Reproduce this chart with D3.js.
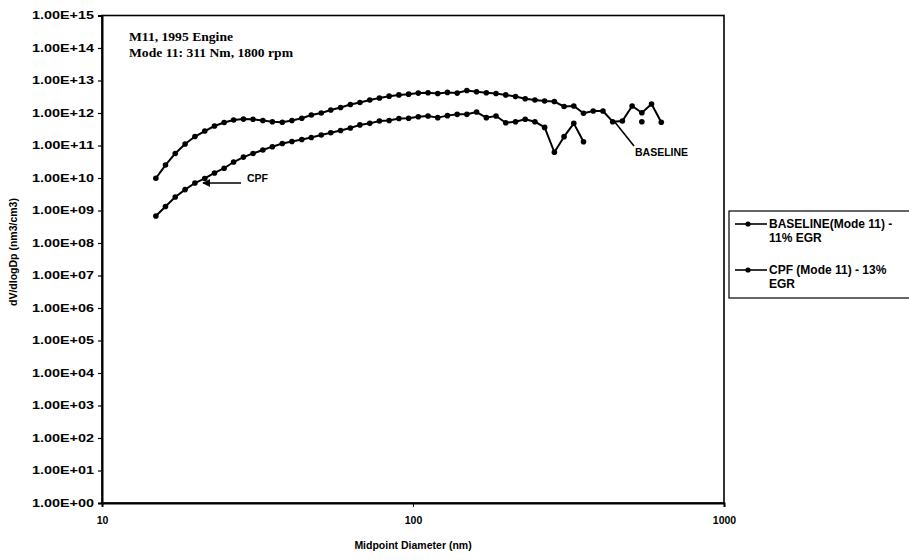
<!DOCTYPE html>
<html>
<head>
<meta charset="utf-8">
<script src="https://cdn.jsdelivr.net/npm/d3@7"></script>
<style>
  body { margin: 0; background: #fff; }
  text { fill: #000; }
</style>
</head>
<body>
<svg id="chart" width="909" height="560"></svg>
<script>
// Midpoint diameters (nm) of the sizer channels
const diameters = [14.9, 16.0, 17.2, 18.5, 19.9, 21.4, 23.0, 24.7, 26.5, 28.5,
  30.6, 32.9, 35.3, 38.0, 40.8, 43.9, 47.1, 50.7, 54.4, 58.5,
  62.9, 67.5, 72.6, 78.0, 83.8, 90.1, 96.8, 104.0, 111.8, 120.1,
  129.0, 138.7, 149.0, 160.1, 172.1, 184.9, 198.7, 213.6, 229.5, 246.6,
  265.0, 284.8, 306.0, 328.9, 353.4, 379.8, 408.1, 438.6, 471.3, 506.5,
  544.3, 584.9, 628.5];

// dV/dlogDp (nm3/cm3), baseline, Mode 11, 11% EGR
const baseline = [9.8e9, 2.5e10, 5.7e10, 1.11e11, 1.89e11, 2.79e11, 3.98e11, 5.1e11, 6.1e11, 6.5e11,
  6.4e11, 5.9e11, 5.4e11, 5.2e11, 5.9e11, 6.9e11, 8.7e11, 1.0e12, 1.24e12, 1.48e12,
  1.83e12, 2.1e12, 2.5e12, 2.9e12, 3.3e12, 3.6e12, 3.8e12, 4.1e12, 4.2e12, 4.0e12,
  4.3e12, 4.1e12, 4.9e12, 4.5e12, 4.2e12, 4.0e12, 3.6e12, 3.2e12, 2.75e12, 2.5e12,
  2.34e12, 2.26e12, 1.58e12, 1.64e12, 9.8e11, 1.15e12, 1.15e12, 5.4e11, 5.7e11, 1.64e12,
  1.02e12, 1.89e12, 5.2e11];

// Lone baseline reading plotted without a connecting line
const baselineExtraD = [544.3];
const baselineExtraV = [5.4e11];

// dV/dlogDp (nm3/cm3), CPF, Mode 11, 13% EGR
const cpf = [6.8e8, 1.33e9, 2.6e9, 4.4e9, 7.0e9, 9.7e9, 1.43e10, 2.0e10, 3.1e10, 4.4e10,
  5.7e10, 7.3e10, 9.2e10, 1.15e11, 1.33e11, 1.53e11, 1.76e11, 2.1e11, 2.48e11, 2.9e11,
  3.45e11, 4.3e11, 4.8e11, 5.7e11, 5.9e11, 6.8e11, 6.9e11, 7.7e11, 8.1e11, 7.2e11,
  8.3e11, 9.1e11, 9.1e11, 1.07e12, 7.2e11, 8.1e11, 5.0e11, 5.4e11, 6.4e11, 5.4e11,
  3.6e11, 6.2e10, 1.87e11, 4.8e11, 1.31e11];

const yExponents = [0, 1, 2, 3, 4, 5, 6, 7, 8, 9, 10, 11, 12, 13, 14, 15];
const xTickValues = [10, 100, 1000];
const xTickLabels = ["10", "100", "1000"];

const svg = d3.select("#chart");
const sans = "'Liberation Sans', Arial, sans-serif";
const serif = "'Liberation Serif', 'Times New Roman', serif";

const x = d3.scaleLog().domain([10, 1000]).range([102, 724]);
const y = d3.scaleLog().domain([1, 1e15]).range([503, 15.5]);

// Plot frame
svg.append("rect")
  .attr("x", x(10)).attr("y", y(1e15))
  .attr("width", x(1000) - x(10)).attr("height", y(1) - y(1e15))
  .attr("fill", "none").attr("stroke", "#000").attr("stroke-width", 1.6);

// Y axis
const yAxis = d3.axisLeft(y)
  .tickValues(yExponents.map(e => Math.pow(10, e)))
  .tickSize(4).tickPadding(4)
  .tickFormat(v => "1.00E+" + String(Math.round(Math.log10(v))).padStart(2, "0"));
const gy = svg.append("g").attr("transform", `translate(${x(10)},0)`).call(yAxis);
gy.select(".domain").attr("stroke-width", 2);
gy.selectAll(".tick line").attr("stroke-width", 1.2);
gy.selectAll(".tick text")
  .attr("font-family", sans).attr("font-size", 10.5).attr("font-weight", "bold")
  .attr("textLength", 62).attr("lengthAdjust", "spacingAndGlyphs");

// X axis
const xAxis = d3.axisBottom(x)
  .tickValues(xTickValues).tickSize(4).tickPadding(10)
  .tickFormat((v, i) => xTickLabels[i]);
const gx = svg.append("g").attr("transform", `translate(0,${y(1)})`).call(xAxis);
gx.select(".domain").attr("stroke-width", 2);
gx.selectAll(".tick text")
  .attr("font-family", sans).attr("font-size", 10.5).attr("font-weight", "bold");

// Axis titles
svg.append("text")
  .attr("x", (x(10) + x(1000)) / 2).attr("y", 549)
  .attr("text-anchor", "middle")
  .attr("font-family", sans).attr("font-size", 10.5).attr("font-weight", "bold")
  .text("Midpoint Diameter (nm)");

svg.append("text")
  .attr("transform", `translate(17,252) rotate(-90)`)
  .attr("text-anchor", "middle")
  .attr("font-family", sans).attr("font-size", 10.5).attr("font-weight", "bold")
  .text("dV/dlogDp (nm3/cm3)");

// Test condition note
svg.append("text").attr("x", 129).attr("y", 41)
  .attr("font-family", serif).attr("font-size", 12).attr("font-weight", "bold")
  .attr("textLength", 104).attr("lengthAdjust", "spacingAndGlyphs")
  .text("M11, 1995 Engine");
svg.append("text").attr("x", 129).attr("y", 57)
  .attr("font-family", serif).attr("font-size", 12).attr("font-weight", "bold")
  .attr("textLength", 164).attr("lengthAdjust", "spacingAndGlyphs")
  .text("Mode 11: 311 Nm, 1800 rpm");

// Series
const line = d3.line()
  .x(d => x(d[0]))
  .y(d => y(d[1]));

function drawSeries(values) {
  const pts = values.map((v, i) => [diameters[i], v]);
  svg.append("path").datum(pts)
    .attr("d", line).attr("fill", "none")
    .attr("stroke", "#000").attr("stroke-width", 2).attr("stroke-linejoin", "round");
  svg.append("g").selectAll("circle").data(pts).join("circle")
    .attr("cx", d => x(d[0])).attr("cy", d => y(d[1])).attr("r", 2.8).attr("fill", "#000");
}
drawSeries(baseline);
drawSeries(cpf);

svg.append("g").selectAll("circle")
  .data(baselineExtraD.map((d, i) => [d, baselineExtraV[i]]))
  .join("circle")
  .attr("cx", d => x(d[0])).attr("cy", d => y(d[1])).attr("r", 2.8).attr("fill", "#000");

// Callouts
svg.append("defs").append("marker")
  .attr("id", "arrowhead").attr("viewBox", "0 0 10 10")
  .attr("refX", 9).attr("refY", 5)
  .attr("markerWidth", 8).attr("markerHeight", 8)
  .attr("markerUnits", "userSpaceOnUse")
  .attr("orient", "auto")
  .append("path").attr("d", "M0,0 L10,5 L0,10 Z").attr("fill", "#000");

svg.append("line")
  .attr("x1", 241).attr("y1", 183).attr("x2", 203).attr("y2", 183)
  .attr("stroke", "#000").attr("stroke-width", 1.4)
  .attr("marker-end", "url(#arrowhead)");
svg.append("text").attr("x", 247).attr("y", 182)
  .attr("font-family", sans).attr("font-size", 10.5).attr("font-weight", "bold")
  .text("CPF");

svg.append("line")
  .attr("x1", 614).attr("y1", 121).attr("x2", 634).attr("y2", 146)
  .attr("stroke", "#000").attr("stroke-width", 1.6);
svg.append("text").attr("x", 635).attr("y", 156)
  .attr("font-family", sans).attr("font-size", 10.5).attr("font-weight", "bold")
  .text("BASELINE");

// Legend
const legend = svg.append("g");
legend.append("rect")
  .attr("x", 729).attr("y", 211).attr("width", 190).attr("height", 87)
  .attr("fill", "#fff").attr("stroke", "#000").attr("stroke-width", 1.2);

const legendItems = [
  { lines: ["BASELINE(Mode 11) -", "11% EGR"], y: 224 },
  { lines: ["CPF (Mode 11) - 13%", "EGR"], y: 270 }
];
legendItems.forEach(item => {
  legend.append("line")
    .attr("x1", 735).attr("x2", 767).attr("y1", item.y).attr("y2", item.y)
    .attr("stroke", "#000").attr("stroke-width", 1.6);
  legend.append("circle").attr("cx", 748).attr("cy", item.y).attr("r", 2.6).attr("fill", "#000");
  item.lines.forEach((t, k) => {
    legend.append("text")
      .attr("x", 769).attr("y", item.y + 4 + k * 14)
      .attr("font-family", sans).attr("font-size", 12).attr("font-weight", "bold")
      .text(t);
  });
});
</script>
</body>
</html>
